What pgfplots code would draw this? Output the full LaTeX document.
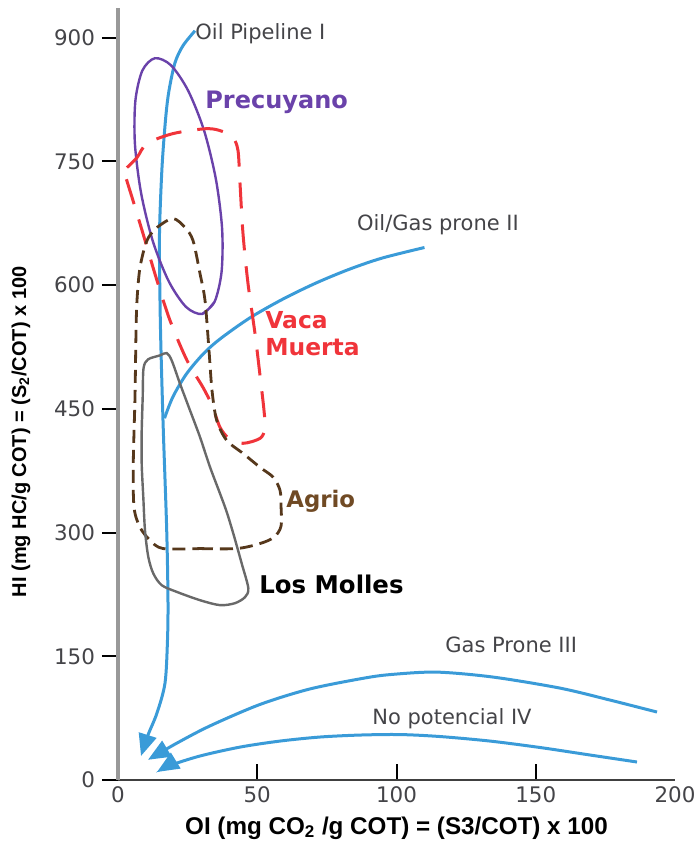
\documentclass[border=0pt]{standalone}
\usepackage{fontspec}
\setmainfont{DejaVu Sans}
\newfontfamily\axisfont{Liberation Sans}
\usepackage{pgfplots}
\pgfplotsset{compat=1.18}
\usetikzlibrary{arrows.meta}

\definecolor{typeblue}{RGB}{58,155,216}
\definecolor{precuyano}{RGB}{106,66,170}
\definecolor{vacamuerta}{RGB}{240,52,58}
\definecolor{agrioline}{RGB}{86,56,28}
\definecolor{agriotext}{RGB}{112,74,36}
\definecolor{molles}{RGB}{105,105,105}
\definecolor{tickgray}{RGB}{68,68,72}

\tikzset{
  path label/.style={anchor=base west, inner sep=0pt, font=\fontsize{10.5}{12}\selectfont, text=tickgray},
  field label/.style={anchor=base west, inner sep=0pt},
}

\begin{document}
\begin{tikzpicture}
\begin{axis}[
  at={(0,0)}, anchor=south west,
  scale only axis, width=278.5pt, height=386pt,
  xmin=0, xmax=200, ymin=0, ymax=936,
  axis x line=bottom, axis y line=left,
  axis line style={-},
  x axis line style={draw=black!75, line width=1pt},
  y axis line style={draw=black!40, line width=1.6pt},
  xtick={50,100,150},
  extra x ticks={0,200},
  extra x tick style={major tick length=0pt},
  ytick={0,150,300,450,600,750,900},
  xtick align=inside, ytick align=outside,
  major tick length=8pt,
  tick style={black, line width=1pt},
  ticklabel style={font=\fontsize{10.7}{12}\selectfont, text=tickgray},
  /pgf/number format/assume math mode=true,
  xlabel={\axisfont\bfseries\fontsize{12.1}{14}\selectfont OI (mg CO\textsubscript{2} /g COT) = (S3/COT) x 100},
  ylabel={\axisfont\bfseries\fontsize{10}{12}\selectfont HI (mg HC/g COT) = (S\textsubscript{2}/COT) x 100},
  xlabel style={at={(axis description cs:0.5,-0.0622)}, anchor=center},
  ylabel style={at={(axis description cs:-0.1741,0.451)}, anchor=center},
  clip=false,
]

% --- kerogen evolution paths ---
% Type I (oil)
\addplot[typeblue, line width=1.5pt, smooth, -{Triangle[length=11pt,width=9pt]}] coordinates {
  (27.65,908.4) (23.34,890.3) (20.47,869.7) (18.31,835.8) (17.13,803.1)
  (15.80,742.5) (14.90,662.5) (15.08,581.4) (15.44,520.8) (16.27,423.9)
  (17.49,302.8) (17.95,218.0) (17.77,169.6) (16.88,117.5) (14.00,81.2)
  (10.77,54.5) (8.26,29.1)
};
% Type II (oil/gas)
\addplot[typeblue, line width=1.5pt, smooth] coordinates {
  (16.70,438.6) (19.68,464.3) (24.49,491.9) (30.45,516.0) (36.45,534.2)
  (47.22,560.0) (59.18,583.0) (71.14,602.6) (83.11,619.3) (94.96,632.9)
  (110.05,645.6)
};
% Type III (gas)
\addplot[typeblue, line width=1.5pt, smooth, -{Triangle[length=11pt,width=9pt]}] coordinates {
  (193.54,82.4) (176.66,96.9) (158.71,111.4) (134.65,124.8) (114.54,130.8)
  (98.74,128.1) (88.69,123.7) (68.94,110.4) (50.99,91.6) (33.03,65.6)
  (21.19,44.8) (10.77,24.5)
};
% Type IV (no potential)
\addplot[typeblue, line width=1.5pt, smooth, -{Triangle[length=11pt,width=9pt]}] coordinates {
  (186.36,21.8) (169.48,30.3) (151.53,39.4) (133.57,47.2) (115.62,52.7)
  (101.26,55.1) (86.89,54.5) (72.53,52.1) (58.17,47.2) (43.81,39.9)
  (29.44,29.1) (18.67,17.6) (14.00,9.7)
};

% --- formation fields ---
% Precuyano
\addplot[precuyano, line width=1.2pt, smooth] coordinates {
  (30.20,565.0) (34.69,579.9) (37.20,616.4) (37.38,668.5) (35.15,728.4)
  (30.92,787.2) (25.21,835.6) (19.03,866.5) (13.25,875.1) (8.76,860.2)
  (6.25,823.8) (6.07,771.7) (8.29,711.7) (12.53,653.0) (18.24,604.5)
  (24.42,573.6) (30.20,565.0) (34.69,579.9)
};
% Vaca Muerta
\addplot[vacamuerta, line width=1.5pt, smooth, dash pattern=on 13pt off 8pt] coordinates {
  (3.23,742.5) (6.82,754.6) (10.41,771.6) (19.75,783.7) (31.96,789.7)
  (37.70,786.1) (41.29,778.8) (43.09,763.1) (43.81,723.1) (44.88,662.5)
  (46.68,602.0) (49.19,541.4) (50.99,490.6) (52.42,448.2) (52.78,426.4)
  (50.99,414.2) (44.88,408.2) (39.86,414.2) (36.63,427.6) (33.75,454.2)
  (30.52,476.0) (24.78,508.7) (18.67,557.2) (14.00,605.6) (8.98,662.5)
  (5.39,702.5) (2.51,735.2) (3.23,742.5)
};
% Agrio
\addplot[agrioline, line width=1.4pt, smooth, dash pattern=on 6.5pt off 3.5pt] coordinates {
  (29.44,280.6) (42.62,280.6) (50.99,286.7) (56.01,294.3) (58.53,307.7)
  (58.53,333.1) (58.17,351.3) (55.76,367.0) (50.99,379.1) (44.99,395.7)
  (39.03,411.8) (35.44,436.0) (33.75,472.4) (32.68,520.8) (31.24,581.4)
  (29.44,614.1) (26.93,654.1) (24.06,669.8) (19.75,680.7) (14.00,669.8)
  (10.41,654.1) (7.90,621.4) (6.82,581.4) (6.46,541.4) (6.10,463.9)
  (5.49,384.0) (5.75,330.7) (7.90,306.4) (11.49,290.7) (16.16,280.6)
  (29.44,280.6)
};
% Los Molles
\addplot[molles, line width=1.2pt, smooth] coordinates {
  (8.51,423.9) (8.87,464.3) (9.16,499.0) (10.77,509.9) (15.08,514.8)
  (17.49,517.6) (19.28,508.7) (22.26,480.5) (25.85,448.2) (29.44,415.8)
  (33.03,379.5) (36.63,347.3) (39.03,325.0) (41.40,298.8) (44.42,262.5)
  (46.79,232.6) (45.60,221.7) (42.01,214.4) (36.63,212.0) (29.44,218.0)
  (21.08,228.1) (15.69,236.2) (12.68,250.4) (10.88,270.5) (9.69,302.8)
  (9.08,343.1) (8.51,383.6) (8.51,423.9) (8.87,464.3)
};

% --- labels ---
\node[path label] at (axis cs:27.65,897.5) {Oil Pipeline I};
\node[path label] at (axis cs:85.71,666.2) {Oil/Gas prone II};
\node[path label] at (axis cs:117.42,155.0) {Gas Prone III};
\node[path label] at (axis cs:91.2,67.8) {No potencial IV};
\node[field label, font=\bfseries\fontsize{12}{14}\selectfont, text=precuyano] at (axis cs:31.24,814.0) {Precuyano};
\node[field label, font=\bfseries\fontsize{11.7}{14}\selectfont, text=vacamuerta] at (axis cs:52.78,547.5) {Vaca};
\node[field label, font=\bfseries\fontsize{11.7}{14}\selectfont, text=vacamuerta] at (axis cs:52.78,514.8) {Muerta};
\node[field label, font=\bfseries\fontsize{11.4}{14}\selectfont, text=agriotext] at (axis cs:60.32,330.7) {Agrio};
\node[field label, font=\bfseries\fontsize{12.2}{14}\selectfont, text=black] at (axis cs:50.63,226.5) {Los Molles};
\end{axis}
\pgfresetboundingbox
\path[use as bounding box] (-59pt,-32pt) rectangle (287.5pt,390pt);
\end{tikzpicture}
\end{document}
